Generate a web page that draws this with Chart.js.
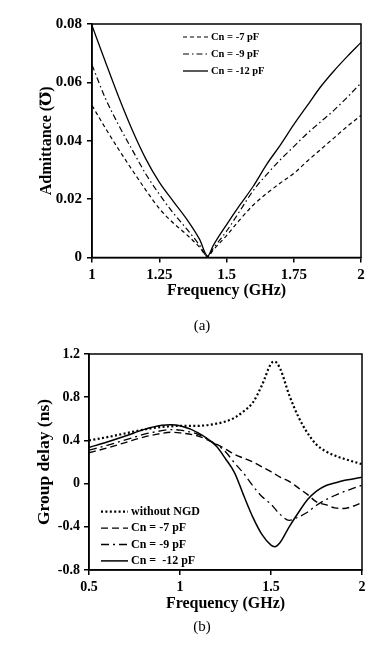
<!DOCTYPE html>
<html><head><meta charset="utf-8">
<script src="https://cdn.jsdelivr.net/npm/chart.js@4"></script>
<style>
html,body{margin:0;padding:0;background:#fff;width:379px;height:647px;overflow:hidden;}
#c1{position:absolute;left:0;top:0;}
#c2{position:absolute;left:0;top:330px;}
.cap{position:absolute;font-family:'Liberation Serif','Times New Roman',serif;font-size:15px;line-height:17px;color:#000;width:60px;text-align:center;}
</style></head><body>
<canvas id="c1" width="379" height="330"></canvas>
<canvas id="c2" width="379" height="317"></canvas>
<div class="cap" style="left:172px;top:317px">(a)</div>
<div class="cap" style="left:172px;top:618px">(b)</div>
<script>
// ---------- (a) Admittance ----------
const admFreq = [1.00,1.05,1.10,1.15,1.20,1.25,1.30,1.35,1.40,1.43,1.45,1.50,1.55,1.60,1.65,1.70,1.75,1.80,1.85,1.90,1.95,2.00];
const admCn7  = [0.0521,0.0443,0.0369,0.0299,0.0231,0.0168,0.0120,0.0080,0.0035,0.0003,0.0025,0.0075,0.0130,0.0180,0.0220,0.0255,0.0288,0.0330,0.0370,0.0410,0.0450,0.0487];
const admCn9  = [0.0660,0.0545,0.0452,0.0368,0.0286,0.0217,0.0155,0.0100,0.0042,0.0003,0.0030,0.0090,0.0160,0.0230,0.0285,0.0335,0.0380,0.0425,0.0465,0.0505,0.0550,0.0598];
const admCn12 = [0.0795,0.0670,0.0548,0.0436,0.0338,0.0258,0.0195,0.0134,0.0062,0.0005,0.0040,0.0112,0.0180,0.0245,0.0320,0.0385,0.0455,0.0520,0.0585,0.0640,0.0690,0.0737];
const admXTicks = [1,1.25,1.5,1.75,2];
const admYTicks = [0,0.02,0.04,0.06,0.08];
const admLegend = ['Cn = -7 pF','Cn = -9 pF','Cn = -12 pF'];

// ---------- (b) Group delay ----------
const gdFreq   = [0.5,0.6,0.7,0.8,0.9,0.95,1.0,1.1,1.2,1.25,1.3,1.35,1.4,1.45,1.5,1.52,1.55,1.6,1.65,1.7,1.75,1.8,1.85,1.9,1.95,2.0];
const gdNoNGD  = [0.40,0.43,0.465,0.50,0.525,0.53,0.535,0.535,0.555,0.575,0.61,0.67,0.75,0.91,1.11,1.13,1.065,0.82,0.62,0.47,0.36,0.30,0.26,0.23,0.205,0.18];
const gdCn7    = [0.285,0.33,0.38,0.43,0.465,0.475,0.47,0.44,0.365,0.32,0.27,0.235,0.20,0.155,0.11,0.09,0.06,0.02,-0.04,-0.10,-0.17,-0.195,-0.225,-0.23,-0.21,-0.175];
const gdCn9    = [0.31,0.355,0.405,0.455,0.49,0.50,0.495,0.455,0.36,0.295,0.19,0.095,-0.02,-0.12,-0.19,-0.23,-0.285,-0.34,-0.31,-0.265,-0.20,-0.15,-0.11,-0.075,-0.045,-0.015];
const gdCn12   = [0.335,0.385,0.44,0.50,0.54,0.545,0.535,0.47,0.345,0.23,0.10,-0.11,-0.31,-0.47,-0.57,-0.585,-0.545,-0.40,-0.27,-0.15,-0.07,-0.02,0.005,0.028,0.043,0.058];
const gdXTicks = [0.5,1,1.5,2];
const gdYTicks = [-0.8,-0.4,0,0.4,0.8,1.2];
const gdLegend = ['without NGD','Cn = -7 pF','Cn = -9 pF','Cn =  -12 pF'];

const FONT = "'Liberation Serif','Times New Roman','DejaVu Serif',serif";
const DASH = [4,3], DASHDOT = [6,3,1.5,3], DOT = [2,2.4];
const GD_DASH = [7,4], GD_DASHDOT = [8,4,2,4];

const pts = (xs, ys) => xs.map((x,i)=>({x, y: ys[i]}));

const boxPlugin = {
  id:'box',
  afterDatasetsDraw(chart){
    const {ctx, chartArea:a} = chart;
    ctx.save(); ctx.strokeStyle='#000'; ctx.lineWidth=1.5; ctx.setLineDash([]);
    ctx.strokeRect(a.left, a.top, a.right-a.left, a.bottom-a.top);
    ctx.restore();
  }
};
const legendPlugin = {
  id:'inlegend',
  afterDraw(chart, args, o){
    if(!o || !o.items) return;
    const ctx = chart.ctx;
    ctx.save();
    ctx.fillStyle='#000'; ctx.strokeStyle='#000';
    ctx.font = 'bold ' + o.size + 'px ' + FONT;
    ctx.textBaseline='middle'; ctx.textAlign='left';
    o.items.forEach((it,i)=>{
      const y = o.y0 + i*o.dy;
      ctx.lineWidth = it.width; ctx.setLineDash(it.dash);
      ctx.beginPath(); ctx.moveTo(o.x0, y); ctx.lineTo(o.x1, y); ctx.stroke();
      ctx.setLineDash([]);
      ctx.fillText(it.text, o.tx, y);
    });
    ctx.restore();
  }
};

function axis(ticksArr, min, max, title, isX, size, tickPad, titlePad, tickSize, titleSize){
  return {
    type:'linear', min, max,
    afterBuildTicks: s => { s.ticks = ticksArr.map(v=>({value:v})); },
    afterFit: s => { if(isX) s.height = size; else s.width = size; },
    grid:{display:true, drawOnChartArea:false, drawTicks:true, tickLength:5, color:'#000', lineWidth:1.5},
    border:{display:true, color:'#000', width:1.5},
    ticks:{color:'#000', autoSkip:false, maxRotation:0, padding:tickPad,
      font:{family:FONT, size:tickSize, weight:'bold'}, callback: v => String(v)},
    title:{display:true, text:title, color:'#000', padding:titlePad,
      font:{family:FONT, size:titleSize, weight:'bold'}}
  };
}
function ds(xs, ys, dash, w){
  return {data: pts(xs, ys), borderColor:'#000', borderWidth:w, borderDash:dash,
    pointRadius:0, fill:false, cubicInterpolationMode:'monotone'};
}

new Chart(document.getElementById('c1'), {
  type:'line',
  data:{datasets:[
    ds(admFreq, admCn7, DASH, 1.2),
    ds(admFreq, admCn9, DASHDOT, 1.2),
    ds(admFreq, admCn12, [], 1.3)
  ]},
  options:{
    responsive:false, animation:false, events:[],
    layout:{padding:{left:0, right:18, top:24, bottom:27.5}},
    scales:{
      x: axis(admXTicks, 1, 2, 'Frequency (GHz)', true, 45, 4, {top:0, bottom:2}, 15, 16),
      y: axis(admYTicks, 0, 0.08, 'Admittance (\u2127)', false, 92, 5, {top:37, bottom:0}, 15, 16)
    },
    plugins:{legend:{display:false}, tooltip:{enabled:false},
      inlegend:{size:10.5, x0:183, x1:208, tx:211, y0:37, dy:17,
        items:[{text:admLegend[0], dash:DASH, width:1.2},{text:admLegend[1], dash:DASHDOT, width:1.2},{text:admLegend[2], dash:[], width:1.3}]}}
  },
  plugins:[boxPlugin, legendPlugin]
});

new Chart(document.getElementById('c2'), {
  type:'line',
  data:{datasets:[
    ds(gdFreq, gdNoNGD, DOT, 2.2),
    ds(gdFreq, gdCn7, GD_DASH, 1.4),
    ds(gdFreq, gdCn9, GD_DASHDOT, 1.3),
    ds(gdFreq, gdCn12, [], 1.5)
  ]},
  options:{
    responsive:false, animation:false, events:[],
    layout:{padding:{left:0, right:17, top:24, bottom:32}},
    scales:{
      x: axis(gdXTicks, 0.5, 2, 'Frequency (GHz)', true, 45, 4, {top:0, bottom:2}, 14, 16),
      y: axis(gdYTicks, -0.8, 1.2, 'Group delay (ns)', false, 89, 4, {top:34, bottom:0}, 14, 17.5)
    },
    plugins:{legend:{display:false}, tooltip:{enabled:false},
      inlegend:{size:12, x0:101, x1:128, tx:131, y0:181.7, dy:16.4,
        items:[{text:gdLegend[0], dash:DOT, width:2.2},{text:gdLegend[1], dash:GD_DASH, width:1.4},{text:gdLegend[2], dash:GD_DASHDOT, width:1.3},{text:gdLegend[3], dash:[], width:1.5}]}}
  },
  plugins:[boxPlugin, legendPlugin]
});
</script>
</body></html>
